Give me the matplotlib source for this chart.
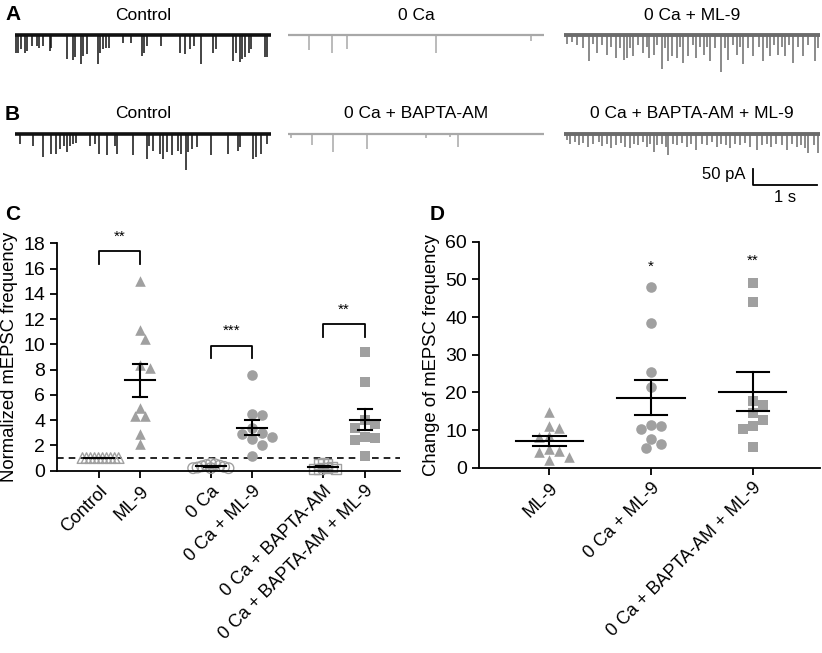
import numpy as np
import matplotlib.pyplot as plt

plt.rcParams['font.family'] = ['Liberation Sans', 'DejaVu Sans']

# ---- mEPSC traces: event times (s) and amplitudes (pA) ----
a_ctrl_t = [0.01, 0.05, 0.10, 0.15, 0.19, 0.26, 0.34, 0.38, 0.43, 0.55, 0.57, 0.82, 0.90, 0.94,
            1.03, 1.07, 1.13, 1.29, 1.33, 1.38, 1.42, 1.47, 1.69, 1.82, 1.98, 2.02, 2.06, 2.28,
            2.58, 2.66, 2.73, 2.79, 2.90, 3.10, 3.14, 3.40, 3.45, 3.52, 3.55, 3.59, 3.66, 3.69,
            3.91, 3.93]
a_ctrl_a = [55, 55, 45, 55, 50, 35, 35, 40, 35, 50, 40, 75, 77, 70, 90, 65, 60, 90, 55, 45, 40,
            40, 25, 25, 65, 55, 35, 35, 55, 60, 45, 35, 90, 55, 45, 80, 55, 85, 75, 70, 55, 45,
            70, 70]
a_0ca_t = [0.33, 0.68, 0.92, 2.32, 3.79]
a_0ca_a = [48, 55, 45, 55, 20]
a_ml9_t = [0.04, 0.12, 0.20, 0.30, 0.39, 0.46, 0.51, 0.59, 0.67, 0.74, 0.82, 0.875, 0.93, 0.98,
           1.03, 1.08, 1.16, 1.23, 1.29, 1.33, 1.40, 1.46, 1.53, 1.58, 1.63, 1.68, 1.76, 1.81,
           1.86, 1.94, 2.01, 2.07, 2.13, 2.18, 2.23, 2.28, 2.36, 2.46, 2.52, 2.57, 2.64, 2.70,
           2.75, 2.80, 2.88, 2.96, 3.04, 3.11, 3.17, 3.22, 3.28, 3.35, 3.40, 3.45, 3.52, 3.58,
           3.66, 3.74, 3.82, 3.92, 3.97]
a_ml9_a = [27, 22, 32, 42, 82, 27, 57, 32, 62, 37, 72, 42, 77, 72, 42, 67, 32, 57, 37, 72, 62,
           32, 107, 42, 82, 67, 72, 37, 87, 67, 32, 72, 37, 62, 37, 82, 42, 117, 42, 77, 32, 62,
           37, 92, 42, 67, 37, 82, 42, 67, 32, 62, 37, 67, 32, 87, 37, 67, 32, 82, 42]

b_ctrl_t = [0.08, 0.28, 0.44, 0.56, 0.64, 0.70, 0.76, 0.81, 0.86, 0.90, 0.95, 1.17, 1.25, 1.32,
            1.43, 1.56, 1.59, 1.85, 2.06, 2.10, 2.16, 2.26, 2.32, 2.37, 2.46, 2.55, 2.60, 2.67,
            2.71, 2.76, 2.84, 3.06, 3.33, 3.49, 3.52, 3.72, 3.77, 3.84, 3.93]
b_ctrl_a = [32, 37, 72, 62, 62, 47, 37, 57, 37, 32, 29, 37, 32, 62, 67, 37, 62, 67, 77, 37, 52,
            62, 77, 57, 67, 52, 62, 112, 57, 47, 42, 67, 62, 52, 42, 77, 72, 62, 32]
b_0ca_t = [0.05, 0.38, 0.70, 1.24, 2.16, 2.53, 2.66]
b_0ca_a = [13, 35, 57, 47, 12, 10, 40]
b_ml9_t = [0.04, 0.10, 0.17, 0.24, 0.30, 0.38, 0.46, 0.54, 0.60, 0.67, 0.74, 0.82, 0.89, 0.95,
           1.03, 1.09, 1.16, 1.23, 1.29, 1.35, 1.40, 1.46, 1.53, 1.59, 1.63, 1.70, 1.76, 1.84,
           1.92, 1.99, 2.07, 2.15, 2.23, 2.31, 2.39, 2.46, 2.53, 2.59, 2.67, 2.75, 2.83, 2.91,
           3.01, 3.09, 3.17, 3.24, 3.32, 3.40, 3.48, 3.56, 3.64, 3.71, 3.77, 3.82, 3.90, 3.97]
b_ml9_a = [20, 30, 25, 35, 28, 40, 30, 25, 38, 30, 45, 35, 28, 40, 45, 30, 35, 25, 40, 30, 55,
           35, 30, 40, 65, 30, 35, 28, 40, 30, 50, 30, 35, 25, 40, 30, 35, 45, 30, 35, 28, 40,
           50, 35, 30, 40, 30, 35, 50, 30, 40, 35, 45, 60, 35, 60]

# ---- panel C: normalized mEPSC frequency ----
c_labels = ['Control', 'ML-9', '0 Ca', '0 Ca + ML-9', '0 Ca + BAPTA-AM', '0 Ca + BAPTA-AM + ML-9']
c_control = [1.0] * 10
c_ml9 = [15.0, 11.1, 10.4, 8.4, 8.1, 5.0, 4.3, 4.3, 2.9, 2.1]
c_0ca = [0.55, 0.5, 0.45, 0.4, 0.35, 0.3, 0.25, 0.2, 0.2, 0.2]
c_0ca_ml9 = [7.6, 4.45, 4.4, 3.4, 3.0, 2.9, 2.7, 2.5, 2.0, 1.2]
c_bapta = [0.6, 0.55, 0.5, 0.3, 0.25, 0.2, 0.15, 0.15, 0.15]
c_bapta_ml9 = [9.4, 7.0, 4.0, 3.7, 3.4, 2.7, 2.6, 2.4, 1.2]

# ---- panel D: change of mEPSC frequency ----
d_labels = ['ML-9', '0 Ca + ML-9', '0 Ca + BAPTA-AM + ML-9']
d_ml9 = [14.9, 11.1, 10.5, 8.4, 8.1, 4.9, 4.4, 4.25, 2.75, 2.0]
d_0ca_ml9 = [48.0, 38.5, 25.5, 21.5, 11.3, 11.2, 10.2, 7.7, 6.3, 5.3]
d_bapta_ml9 = [49.0, 43.9, 17.8, 16.6, 14.6, 12.65, 11.2, 10.4, 5.6]

W, H = 822, 653
fig = plt.figure(figsize=(W / 100, H / 100), dpi=100)


def box(x0, y0, x1, y1):
    return [x0 / W, 1 - y1 / H, (x1 - x0) / W, (y1 - y0) / H]


def trace(rect, t, a, color, base_lw):
    ax = fig.add_axes(rect)
    ax.hlines(0, 0, 4, color=color, lw=base_lw)
    ax.vlines(t, -np.array(a), 0, color=color, lw=1.1)
    ax.set_xlim(0, 4)
    ax.set_ylim(-125, 31.25)
    ax.axis('off')
    return ax


black, light, dark = '#111111', '#a8a8a8', '#6b6b6b'
xs = [(15, 271), (288, 544), (564, 820)]
for row, base_y, sets, titles in [
        ('A', 35, [(a_ctrl_t, a_ctrl_a, black, 2.6), (a_0ca_t, a_0ca_a, light, 1.6),
                   (a_ml9_t, a_ml9_a, dark, 2.8)], ['Control', '0 Ca', '0 Ca + ML-9']),
        ('B', 134, [(b_ctrl_t, b_ctrl_a, black, 2.6), (b_0ca_t, b_0ca_a, light, 1.6),
                    (b_ml9_t, b_ml9_a, dark, 2.8)],
         ['Control', '0 Ca + BAPTA-AM', '0 Ca + BAPTA-AM + ML-9'])]:
    fig.text(5 / W, 1 - (base_y - 20) / H, row, fontsize=15, fontweight='bold', va='center')
    for (x0, x1), (t, a, col, lw), title in zip(xs, sets, titles):
        ax = trace(box(x0, base_y - 10, x1, base_y + 40), t, a, col, lw)
        fig.text((x0 + x1) / 2 / W, 1 - (base_y - 20) / H, title, fontsize=12.5,
                 ha='center', va='center')

# scale bar on last trace
ax.plot([2.95, 2.95, 3.95], [-109, -159, -159], color='black', lw=1.3, clip_on=False)
ax.text(2.83, -128, '50 pA', fontsize=12, ha='right', va='center')
ax.text(3.45, -200, '1 s', fontsize=12, ha='center', va='center')


def swarm(vals, py, px, d):
    # simple beeswarm offsets, d = marker spacing in pixels
    vals = np.asarray(vals, float)
    offs = np.zeros(len(vals))
    placed = []
    cands = sorted([k * d / 2 for k in range(-14, 15)], key=lambda v: (abs(v), -v))
    for i in np.argsort(-vals):
        y = vals[i] * py
        for c in cands:
            if all((c - xo) ** 2 + (y - yo) ** 2 >= (d * 0.98) ** 2 for xo, yo in placed):
                break
        placed.append((c, y))
        offs[i] = c / px
    return offs


def group(ax, x, vals, marker, py, px, d, open_m, half, cap, ms=58):
    off = swarm(vals, py, px, d)
    if open_m:
        ax.scatter(x + off, vals, marker=marker, s=ms, facecolor='none',
                   edgecolor='#a0a0a0', lw=1.0, zorder=2, clip_on=False)
    else:
        ax.scatter(x + off, vals, marker=marker, s=ms, color='#a0a0a0', lw=0,
                   zorder=2, clip_on=False)
    m = np.mean(vals)
    sem = np.std(vals, ddof=1) / np.sqrt(len(vals))
    ax.plot([x - half, x + half], [m, m], color='black', lw=1.5, zorder=3)
    ax.plot([x, x], [m - sem, m + sem], color='black', lw=1.5, zorder=3)
    for v in (m - sem, m + sem):
        ax.plot([x - cap, x + cap], [v, v], color='black', lw=1.5, zorder=3)


def style(ax):
    for s in ('top', 'right'):
        ax.spines[s].set_visible(False)
    for s in ('left', 'bottom'):
        ax.spines[s].set_linewidth(1.3)
    ax.tick_params(direction='out', length=5, width=1.3)
    ax.tick_params(axis='y', labelsize=14)
    ax.tick_params(axis='x', labelsize=13)


# ---- panel C ----
axc = fig.add_axes(box(57, 243.3, 400, 470.7))
style(axc)
cpos = [0, 1, 2.7, 3.7, 5.4, 6.4]
pyc, pxc = 12.63, 41.4
group(axc, cpos[0], c_control, '^', pyc, pxc, 4, True, 0.36, 0.17)
group(axc, cpos[1], c_ml9, '^', pyc, pxc, 10, False, 0.36, 0.17)
group(axc, cpos[2], c_0ca, 'o', pyc, pxc, 4.4, True, 0.36, 0.17)
group(axc, cpos[3], c_0ca_ml9, 'o', pyc, pxc, 10, False, 0.36, 0.17)
group(axc, cpos[4], c_bapta, 's', pyc, pxc, 4.4, True, 0.36, 0.17, ms=50)
group(axc, cpos[5], c_bapta_ml9, 's', pyc, pxc, 10, False, 0.36, 0.17, ms=50)
axc.axhline(1, color='black', lw=1.2, ls=(0, (4, 3)), zorder=1)
axc.set_xlim(-1, 7.25)
axc.set_ylim(0, 18)
axc.set_yticks(range(0, 19, 2))
axc.set_xticks(cpos)
axc.set_xticklabels(c_labels, rotation=45, ha='right', rotation_mode='anchor')
axc.set_ylabel('Normalized mEPSC frequency', fontsize=13.3, labelpad=4)

for (x0, x1), top, star in [((cpos[0], cpos[1]), 17.4, '**'),
                            ((cpos[2], cpos[3]), 9.9, '***'),
                            ((cpos[4], cpos[5]), 11.6, '**')]:
    axc.plot([x0, x0, x1, x1], [top - 1.0, top, top, top - 1.0], color='black', lw=1.3,
             clip_on=False)
    axc.text((x0 + x1) / 2, top + 0.6, star, ha='center', va='bottom', fontsize=11)
fig.text(5 / W, 1 - 215 / H, 'C', fontsize=15, fontweight='bold', va='center')

# ---- panel D ----
axd = fig.add_axes(box(479, 241.7, 820, 467.7))
style(axd)
pyd, pxd = 3.767, 102
group(axd, 0, d_ml9, '^', pyd, pxd, 10, False, 0.33, 0.16)
group(axd, 1, d_0ca_ml9, 'o', pyd, pxd, 10, False, 0.33, 0.16)
group(axd, 2, d_bapta_ml9, 's', pyd, pxd, 10, False, 0.33, 0.16, ms=50)
axd.text(1, 51.5, '*', ha='center', va='bottom', fontsize=11)
axd.text(2, 53, '**', ha='center', va='bottom', fontsize=11)
axd.set_xlim(-0.69, 2.66)
axd.set_ylim(0, 60)
axd.set_yticks(range(0, 61, 10))
axd.set_xticks([0, 1, 2])
axd.set_xticklabels(d_labels, rotation=45, ha='right', rotation_mode='anchor')
axd.set_ylabel('Change of mEPSC frequency', fontsize=13.3, labelpad=4)
fig.text(430 / W, 1 - 215 / H, 'D', fontsize=15, fontweight='bold', va='center')

fig.savefig('out.png', dpi=100)
